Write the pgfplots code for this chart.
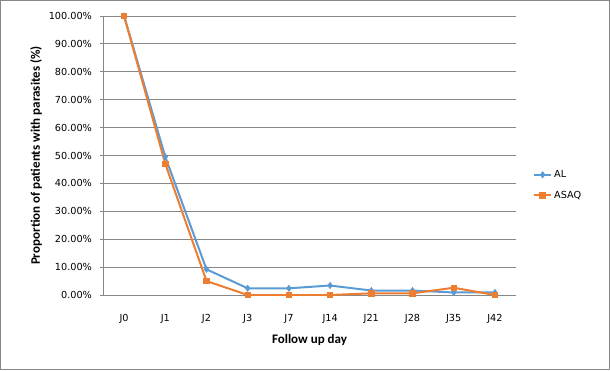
\documentclass[border=0pt]{standalone}
\usepackage{fontspec}
\setmainfont{DejaVu Sans}
\newfontfamily\labelfont{Carlito}
\usepackage{pgfplots}
\pgfplotsset{compat=1.18}
\definecolor{alblue}{HTML}{5B9BD5}
\definecolor{asorange}{HTML}{ED7D31}
\definecolor{gridgray}{HTML}{878787}
\begin{document}
\begin{tikzpicture}
\path[use as bounding box] (0,0) rectangle (610pt,370pt);
\draw[gridgray, line width=0.8pt] (0.5pt,0.5pt) rectangle (609.5pt,369.5pt);
\begin{axis}[
  at={(103.5pt,75pt)}, anchor=south west,
  scale only axis, width=412pt, height=279pt,
  xmin=-0.5, xmax=9.5, ymin=0, ymax=100,
  xtick={0,...,9},
  xticklabels={J0,J1,J2,J3,J7,J14,J21,J28,J35,J42},
  ytick={0,10,...,100},
  yticklabel={\pgfmathprintnumber[fixed,fixed zerofill,precision=2]{\tick}\%},
  /pgf/number format/assume math mode=true,
  ticklabel style={font=\fontsize{9.7}{11}\selectfont},
  axis x line*=bottom, axis y line*=left,
  axis line style={gridgray, line width=0.8pt},
  x axis line style={-}, y axis line style={-},
  ymajorgrids, major grid style={gridgray, line width=0.8pt},
  major x tick style={draw=none},
  major y tick style={gridgray, line width=0.8pt},
  tick align=outside, major tick length=4pt,
  xticklabel style={yshift=-12pt},
  yticklabel style={xshift=-4pt},
  xlabel={\bfseries Follow up day},
  ylabel={\bfseries Proportion of patients with parasites (\%)},
  label style={font=\labelfont\fontsize{13}{15}\selectfont},
  xlabel style={yshift=-4pt},
  ylabel style={yshift=0pt},
  legend style={at={(1.035,0.394)}, anchor=west, draw=none, fill=none,
    font=\fontsize{9.7}{11}\selectfont, row sep=8pt,
    legend cell align=left},
]
\addplot[alblue, line width=2pt, mark=diamond*, mark size=2pt, mark options={solid}]
  coordinates {(0,100) (1,49.5) (2,9.2) (3,2.4) (4,2.4) (5,3.4) (6,1.6) (7,1.6) (8,0.9) (9,0.9)};
\addlegendentry{AL}
\addplot[asorange, line width=2pt, mark=square*, mark size=2.2pt, mark options={solid}]
  coordinates {(0,100) (1,47) (2,5) (3,0) (4,0) (5,0) (6,0.6) (7,0.6) (8,2.6) (9,0)};
\addlegendentry{ASAQ}
\end{axis}
\end{tikzpicture}
\end{document}
